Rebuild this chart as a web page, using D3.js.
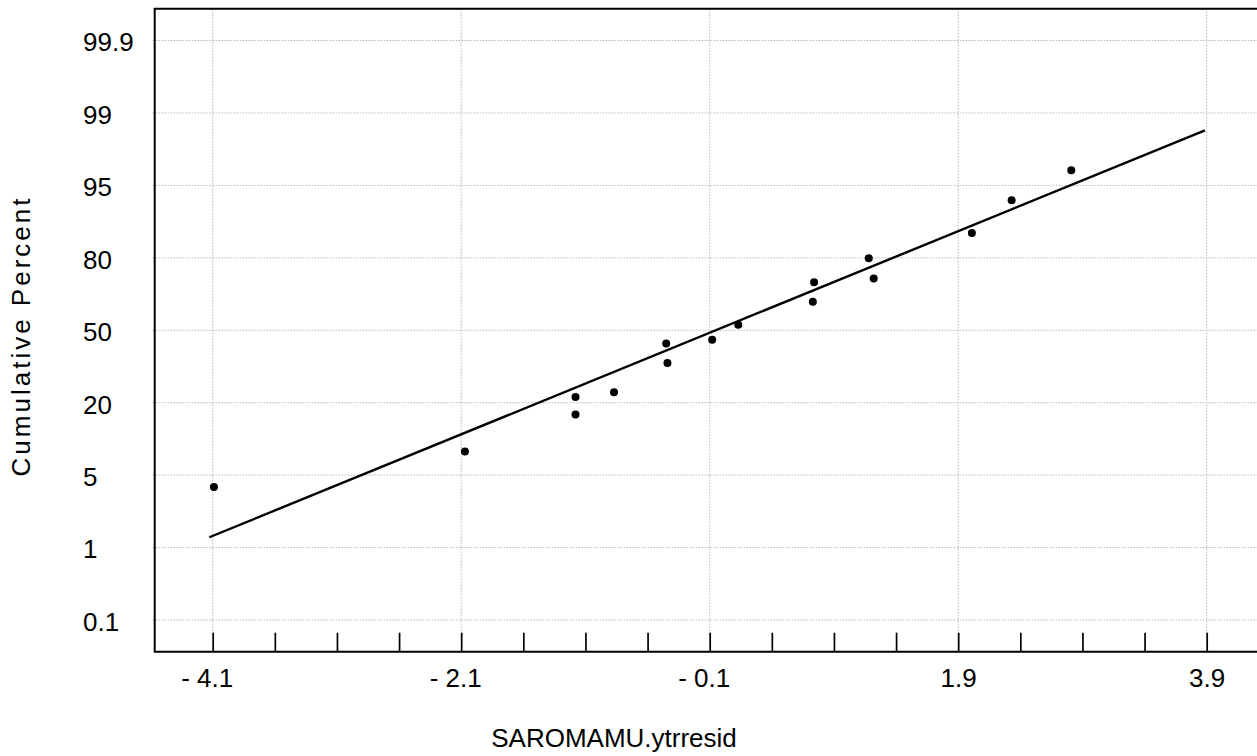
<!DOCTYPE html>
<html>
<head>
<meta charset="utf-8">
<script src="https://cdn.jsdelivr.net/npm/d3@7"></script>
<style>
    html, body { margin: 0; padding: 0; background: #fff; }
    svg { display: block; font-family: "Liberation Sans", Arial, sans-serif; }
</style>
</head>
<body>
<svg id="probPlot"></svg>
<script>
// residuals (x) and cumulative percent (y)
const residuals = [-4.09, -2.07, -1.18, -1.18, -0.87, -0.45, -0.44, -0.08, 0.13, 0.73, 0.74, 1.18, 1.22, 2.01, 2.33, 2.81];
const cumPercent = [4.35, 9.9, 17.56, 22.33, 24.32, 44.51, 36.43, 46.11, 52.26, 61.78, 69.89, 79.87, 71.46, 85.12, 91.94, 95.83];

// fitted reference line, two ends
const fitX = [-4.127, 3.886];
const fitY = [1.57, 98.04];

const yTickValues = [0.1, 1, 5, 20, 50, 80, 95, 99, 99.9];
const yTickLabels = ['0.1', '1', '5', '20', '50', '80', '95', '99', '99.9'];
const xMajorTicks = [-4.1, -2.1, -0.1, 1.9, 3.9];
const xMajorLabels = ['- 4.1', '- 2.1', '- 0.1', '1.9', '3.9'];
const xMinorTicks = [-3.6, -3.1, -2.6, -1.6, -1.1, -0.6, 0.4, 0.9, 1.4, 2.4, 2.9, 3.4];

function drawProbabilityPlot() {
    const width = 1257;
    const height = 756;
    const frame = { left: 154.7, top: 8.7, bottom: 651.7 };
    const font = 26;

    const svg = d3.select('#probPlot')
        .attr('width', width)
        .attr('height', height);

    const x = d3.scaleLinear()
        .domain([-4.1, 3.9])
        .range([212.7, 1206.7]);

    // probability labels sit at even steps, values interpolate between them
    const yPos = d3.scalePoint()
        .domain(yTickLabels)
        .range([620, 40.5]);
    const y = d3.scaleLinear()
        .domain(yTickValues)
        .range(yTickLabels.map(l => yPos(l)));

    // grid
    svg.append('g')
        .selectAll('line')
        .data(yTickValues)
        .enter().append('line')
        .attr('x1', frame.left - 2)
        .attr('x2', width)
        .attr('y1', d => y(d))
        .attr('y2', d => y(d))
        .attr('stroke', '#b5b5b5')
        .attr('stroke-width', 1)
        .attr('stroke-dasharray', '1.5,1.5');

    svg.append('g')
        .selectAll('line')
        .data(xMajorTicks)
        .enter().append('line')
        .attr('x1', d => x(d))
        .attr('x2', d => x(d))
        .attr('y1', frame.top)
        .attr('y2', frame.bottom)
        .attr('stroke', '#b5b5b5')
        .attr('stroke-width', 1)
        .attr('stroke-dasharray', '1.5,1.5');

    // frame (right side runs off the picture)
    svg.append('path')
        .attr('d', `M${width + 5},${frame.top}H${frame.left}V${frame.bottom}H${width + 5}`)
        .attr('fill', 'none')
        .attr('stroke', '#000')
        .attr('stroke-width', 2);

    // x axis: inward ticks, labels on majors only
    const allTicks = xMajorTicks.concat(xMinorTicks).sort((a, b) => a - b);
    const xAxis = svg.append('g')
        .attr('transform', `translate(0,${frame.bottom})`)
        .call(d3.axisBottom(x)
            .tickValues(allTicks)
            .tickSize(-19)
            .tickPadding(17.3)
            .tickFormat(d => {
                const i = xMajorTicks.indexOf(d);
                return i >= 0 ? xMajorLabels[i] : '';
            }));
    xAxis.select('.domain').remove();
    xAxis.selectAll('.tick line')
        .attr('stroke', '#000')
        .attr('stroke-width', 1.7);
    xAxis.selectAll('.tick text')
        .attr('fill', '#000')
        .attr('font-size', font)
        .attr('font-family', '"Liberation Sans", Arial, sans-serif')
        .attr('dx', d => d < 0 ? -6 : 0);

    // y labels
    svg.append('g')
        .selectAll('text')
        .data(yTickLabels)
        .enter().append('text')
        .attr('x', 83)
        .attr('y', d => yPos(d) + 1.5)
        .attr('dy', '0.36em')
        .attr('font-size', font)
        .attr('fill', '#000')
        .text(d => d);

    // fitted line
    const line = d3.line()
        .x(d => x(d[0]))
        .y(d => y(d[1]));
    svg.append('path')
        .datum(d3.zip(fitX, fitY))
        .attr('d', line)
        .attr('fill', 'none')
        .attr('stroke', '#000')
        .attr('stroke-width', 2.4);

    // points
    svg.append('g')
        .selectAll('circle')
        .data(d3.zip(residuals, cumPercent))
        .enter().append('circle')
        .attr('cx', d => x(d[0]))
        .attr('cy', d => y(d[1]))
        .attr('r', 4)
        .attr('fill', '#000');

    // titles
    svg.append('text')
        .attr('x', 614)
        .attr('y', 746.5)
        .attr('text-anchor', 'middle')
        .attr('font-size', font)
        .attr('fill', '#000')
        .text('SAROMAMU.ytrresid');

    svg.append('text')
        .attr('transform', 'translate(30,336) rotate(-90)')
        .attr('text-anchor', 'middle')
        .attr('font-size', font)
        .attr('letter-spacing', 3)
        .attr('fill', '#000')
        .text('Cumulative Percent');
}

document.addEventListener('DOMContentLoaded', function() {
    drawProbabilityPlot();
});
</script>
</body>
</html>
